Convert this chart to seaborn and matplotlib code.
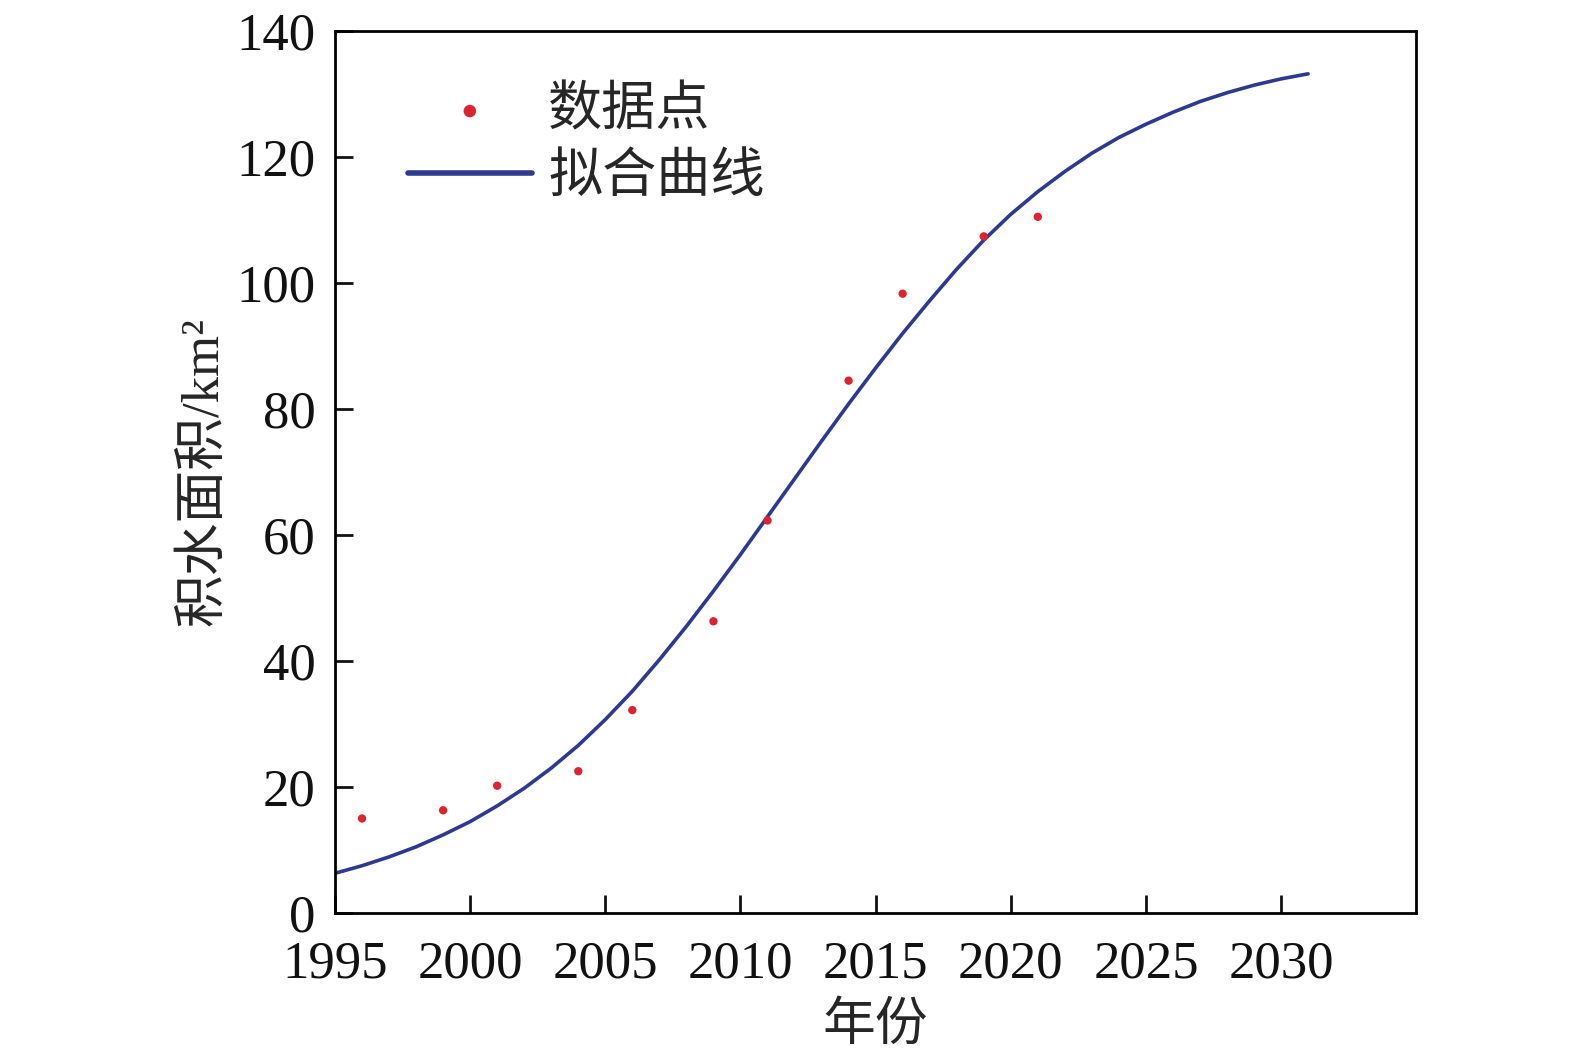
import numpy as np
import pandas as pd
import matplotlib
matplotlib.use("Agg")
import matplotlib.pyplot as plt
import seaborn as sns

obs_year = [1996, 1999, 2001, 2004, 2006, 2009, 2011, 2014, 2016, 2019, 2021]
obs_area = [15.0, 16.3, 20.2, 22.5, 32.2, 46.3, 62.3, 84.5, 98.3, 107.4, 110.5]

# 拟合曲线（逐年读数）
fit_year = list(range(1995, 2032))
fit_area = [6.3, 7.5, 8.9, 10.5, 12.4, 14.5, 17.0, 19.8, 23.0, 26.6, 30.7,
            35.2, 40.2, 45.5, 51.1, 56.9, 62.9, 68.9, 74.9, 80.8, 86.5,
            92.0, 97.2, 102.2, 106.8, 110.9, 114.5, 117.7, 120.6, 123.1,
            125.2, 127.1, 128.8, 130.2, 131.4, 132.4, 133.2]

x_ticks = [1995, 2000, 2005, 2010, 2015, 2020, 2025, 2030]
y_ticks = [0, 20, 40, 60, 80, 100, 120, 140]

sns.set_theme(style="white")
plt.rcParams['font.family'] = ['Liberation Serif', 'Noto Sans CJK SC', 'DejaVu Sans']
plt.rcParams['axes.unicode_minus'] = False

df_obs = pd.DataFrame({"year": obs_year, "area": obs_area})
df_fit = pd.DataFrame({"year": fit_year, "area": fit_area})

fig = plt.figure(figsize=(15.75, 10.54), dpi=100)
ax = fig.add_axes([0.2127, 0.1338, 0.6865, 0.8368])

sns.scatterplot(data=df_obs, x="year", y="area", ax=ax, color="#dc2430",
                s=36, edgecolor="none", label="数据点", zorder=3)
sns.lineplot(data=df_fit, x="year", y="area", ax=ax, color="#2e3a8f",
             linewidth=2.6, label="拟合曲线", zorder=2)

ax.set_xlim(1995, 2035)
ax.set_ylim(0, 140)
ax.set_xticks(x_ticks)
ax.set_yticks(y_ticks)

for sp in ax.spines.values():
    sp.set_color("black")
    sp.set_linewidth(2)

ax.tick_params(axis="both", direction="in", length=13, width=2,
               labelsize=38, colors="#111111")
ax.tick_params(axis="x", pad=20, top=False, bottom=True)
ax.tick_params(axis="y", pad=14, left=True, right=False)

ax.set_xlabel("年份", fontsize=38, labelpad=10)
ax.set_ylabel("积水面积/km²", fontsize=38, labelpad=6)

leg = ax.legend(loc="upper left", bbox_to_anchor=(0.022, 0.992), frameon=False,
                fontsize=39, handlelength=2.3, handletextpad=0.3,
                labelspacing=0.3, markerscale=1.5)
for h in leg.legend_handles:
    if hasattr(h, "set_linewidth"):
        h.set_linewidth(4)

fig.savefig("out.png", dpi=100)
